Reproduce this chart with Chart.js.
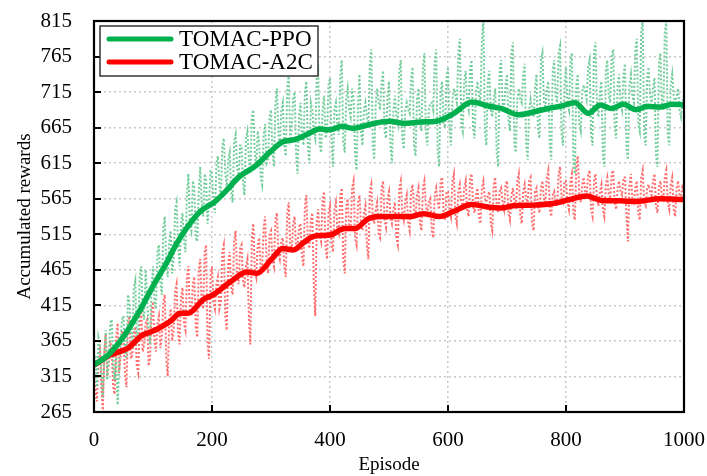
<!DOCTYPE html>
<html>
<head>
<meta charset="utf-8">
<script src="https://cdn.jsdelivr.net/npm/chart.js@4.4.1/dist/chart.umd.min.js"></script>
<style>
  html, body { margin: 0; padding: 0; background: #ffffff; }
  #wrap { width: 707px; height: 476px; position: relative; }
</style>
</head>
<body>
<div id="wrap"><canvas id="c" width="707" height="476"></canvas></div>
<script>
// ---------------- data ----------------
const seriesNames = ["TOMAC-PPO", "TOMAC-A2C"];
const xTicks = [0, 200, 400, 600, 800, 1000];
const yTicks = [265, 315, 365, 415, 465, 515, 565, 615, 665, 715, 765, 815];

// raw (noisy) rewards, sampled every 2.5 episodes (0..1000), one row = 50 episodes
const rawStep = 2.5;
const ppoRaw = [
  330,345,300,370,360,320,285,350,380,310,340,390,395,330,310,345,275,320,370,395,
  400,350,340,430,420,375,365,440,450,360,380,455,470,410,395,465,430,380,360,440,
  470,420,410,490,500,445,430,525,540,470,455,505,520,460,480,550,560,500,470,530,
  545,505,490,570,600,530,520,590,580,510,505,575,610,560,540,600,590,530,560,605,
  600,560,545,615,625,585,570,640,650,600,580,620,630,575,560,645,655,610,595,640,
  640,590,570,650,660,620,600,680,690,630,610,660,645,595,585,655,670,615,620,680,
  690,630,610,700,720,655,640,690,700,640,625,720,740,650,660,705,715,630,600,680,
  700,655,640,715,730,640,615,700,690,660,650,735,745,640,630,690,710,650,660,725,
  735,650,610,690,700,670,655,740,760,645,630,705,720,690,680,720,705,630,605,700,
  740,660,640,690,700,680,665,750,775,640,620,700,720,700,690,730,745,660,650,710,
  730,640,615,690,710,680,670,745,760,650,635,690,700,690,685,735,750,640,625,705,
  720,675,660,750,770,655,640,690,700,700,690,760,775,630,610,715,730,670,665,735,
  750,665,640,705,720,710,700,770,790,670,660,730,745,700,690,750,760,665,650,715,
  730,710,700,790,815,660,640,730,745,690,680,705,720,630,610,745,760,700,690,725,
  740,675,660,770,785,640,630,705,720,705,700,740,755,640,620,690,705,690,680,720,
  740,665,650,760,770,700,695,720,730,640,620,745,760,710,700,770,780,655,640,725,
  750,700,690,760,770,615,600,725,740,670,660,715,725,715,705,750,760,655,640,770,
  785,695,680,715,730,625,610,745,760,710,700,765,775,665,650,725,740,700,690,740,
  755,635,620,725,740,710,700,775,790,670,660,800,815,655,640,735,750,710,700,720,
  735,625,610,755,770,700,690,800,815,655,640,725,740,710,700,710,720,690,680,700,
  710
];
const a2cRaw = [
  320,295,280,340,360,300,265,350,375,315,330,365,350,300,290,370,390,320,340,380,
  370,320,300,385,400,340,345,375,385,330,320,395,410,350,360,390,395,330,340,405,
  420,365,350,390,400,355,370,420,430,340,315,395,410,365,380,435,445,375,360,425,
  440,390,380,455,470,405,400,445,455,385,370,465,480,420,410,490,500,360,340,455,
  470,420,410,445,455,410,420,490,500,400,380,475,490,440,430,505,520,460,445,495,
  500,450,440,470,480,400,360,510,530,465,455,500,510,465,470,525,540,475,460,515,
  520,480,470,535,545,490,480,505,510,470,455,545,560,500,490,530,540,495,500,525,
  530,485,470,555,570,505,495,535,545,450,400,530,550,515,505,565,575,495,480,545,
  555,500,490,550,560,520,515,570,580,480,460,555,565,525,520,580,590,510,500,560,
  570,530,520,545,555,500,480,575,585,540,530,550,560,515,510,580,590,535,525,565,
  575,540,530,550,560,510,500,580,590,545,535,560,570,530,520,575,585,550,540,570,
  580,530,520,580,590,555,545,560,565,520,510,570,580,560,550,590,595,545,535,575,
  575,550,540,590,600,540,530,575,585,560,555,580,590,550,540,595,600,555,545,570,
  580,540,530,580,590,565,560,570,575,530,520,585,595,555,545,575,580,560,550,585,
  590,545,535,570,580,560,555,590,600,540,530,575,585,565,560,590,595,530,520,575,
  580,555,545,580,590,565,560,595,605,550,540,570,575,560,555,600,610,565,560,590,
  590,560,550,590,600,545,535,610,625,570,560,585,595,575,570,600,605,550,540,590,
  600,565,555,575,585,550,540,585,595,570,565,600,605,560,550,580,590,575,570,595,
  595,540,505,585,600,565,560,580,590,545,535,595,605,560,555,580,585,575,570,590,
  600,555,545,580,590,570,565,595,605,560,550,585,595,550,540,580,590,570,565,585,
  575
];

// smoothed curves
const ppoSmoothEp = [0, 25, 50, 75, 100, 125, 140, 160, 180, 205, 225, 245, 275, 300, 320, 340, 360, 383, 400, 420, 440, 470, 500, 525, 555, 580, 610, 640, 670, 690, 720, 745, 770, 790, 815, 838, 858, 877, 897, 919, 937, 960, 980, 1000];
const ppoSmooth   = [331, 346, 371, 404, 442, 478, 502, 527, 547, 561, 577, 595, 612, 632, 645, 648, 655, 663, 662, 667, 664, 670, 674, 671, 673, 674, 685, 701, 695, 692, 683, 687, 692, 695, 700, 685, 697, 692, 698, 690, 695, 694, 698, 697];
const a2cSmoothEp = [0, 27, 58, 80, 106, 130, 146, 160, 185, 202, 231, 259, 276, 300, 320, 338, 355, 372, 400, 425, 442, 465, 485, 536, 558, 586, 609, 640, 670, 690, 711, 745, 784, 807, 835, 858, 892, 919, 959, 1000];
const a2cSmooth   = [331, 345, 355, 372, 381, 393, 404, 404, 423, 430, 448, 462, 460, 479, 495, 493, 503, 512, 514, 523, 523, 537, 540, 540, 544, 540, 547, 557, 553, 552, 555, 556, 559, 564, 569, 563, 562, 561, 565, 564];

// ---------------- build ----------------
const toXY = (xs, ys) => ys.map((v, i) => ({ x: xs[i], y: v }));
const rawXY = arr => arr.map((v, i) => ({ x: i * rawStep, y: v }));

const FONT = "'Liberation Serif', 'Times New Roman', serif";
const GREEN = "#00b04f";
const RED = "#ff0000";

const framePlugin = {
  id: 'frame',
  afterDatasetsDraw(chart) {
    const { ctx, chartArea: a, scales } = chart;
    ctx.save();
    ctx.strokeStyle = '#000';
    ctx.lineWidth = 2;
    ctx.beginPath();
    yTicks.forEach(v => {
      const y = Math.round(scales.y.getPixelForValue(v));
      ctx.moveTo(a.left, y); ctx.lineTo(a.left + 7, y);
    });
    xTicks.forEach(v => {
      const x = Math.round(scales.x.getPixelForValue(v));
      ctx.moveTo(x, a.bottom); ctx.lineTo(x, a.bottom - 7);
    });
    ctx.stroke();
    ctx.lineWidth = 2.2;
    ctx.strokeRect(a.left, a.top, a.right - a.left, a.bottom - a.top);

    // legend box
    const lx = a.left + 6, ly = a.top + 5, lw = 218, lh = 50;
    ctx.fillStyle = '#fff';
    ctx.fillRect(lx, ly, lw, lh);
    ctx.strokeStyle = '#333';
    ctx.lineWidth = 1.5;
    ctx.strokeRect(lx, ly, lw, lh);
    const items = [chart.data.datasets[0], chart.data.datasets[1]];
    ctx.font = "23px " + FONT;
    ctx.textBaseline = 'middle';
    items.forEach((ds, i) => {
      const cy = ly + 13 + i * 23;
      ctx.strokeStyle = ds.borderColor;
      ctx.lineWidth = 5;
      ctx.lineCap = 'round';
      ctx.beginPath();
      ctx.moveTo(lx + 9, cy); ctx.lineTo(lx + 71, cy);
      ctx.stroke();
      ctx.fillStyle = '#000';
      ctx.fillText(ds.label, lx + 79, cy + 1);
    });
    ctx.restore();
  }
};

new Chart(document.getElementById('c'), {
  type: 'line',
  data: {
    datasets: [
      { label: seriesNames[0], data: toXY(ppoSmoothEp, ppoSmooth), borderColor: GREEN, borderWidth: 5.5, pointRadius: 0, tension: 0.4, cubicInterpolationMode: 'monotone' },
      { label: seriesNames[1], data: toXY(a2cSmoothEp, a2cSmooth), borderColor: RED, borderWidth: 5.5, pointRadius: 0, tension: 0.4, cubicInterpolationMode: 'monotone' },
      { label: seriesNames[0] + ' raw', data: rawXY(ppoRaw), borderColor: 'rgb(115,205,155)', borderWidth: 2, borderDash: [2, 2], pointRadius: 0, tension: 0 },
      { label: seriesNames[1] + ' raw', data: rawXY(a2cRaw), borderColor: 'rgb(255,110,110)', borderWidth: 2, borderDash: [2, 2], pointRadius: 0, tension: 0 }
    ]
  },
  options: {
    responsive: false,
    animation: false,
    layout: { padding: { top: 21, right: 23, left: 0, bottom: 0 } },
    plugins: { legend: { display: false }, tooltip: { enabled: false } },
    scales: {
      x: {
        type: 'linear', min: 0, max: 1000,
        afterBuildTicks: s => { s.ticks = xTicks.map(v => ({ value: v })); },
        afterFit: s => { s.height = 64; s.paddingLeft = 0; s.paddingRight = 0; },
        ticks: { color: '#000', font: { family: FONT, size: 21 }, padding: 16, maxRotation: 0, callback: v => String(v) },
        grid: { color: '#c8c8c8', lineWidth: 1.5, drawTicks: false },
        border: { display: false, dash: [2, 3] },
        title: { display: true, text: 'Episode', color: '#000', font: { family: FONT, size: 19 }, padding: { top: 2, bottom: 0 } }
      },
      y: {
        type: 'linear', min: 265, max: 815,
        afterBuildTicks: s => { s.ticks = yTicks.map(v => ({ value: v })); },
        afterFit: s => { s.width = 94; s.paddingTop = 0; s.paddingBottom = 0; },
        ticks: { color: '#000', font: { family: FONT, size: 21 }, padding: 22, callback: v => String(v) },
        grid: { color: '#c8c8c8', lineWidth: 1.5, drawTicks: false },
        border: { display: false, dash: [2, 3] },
        title: { display: true, text: 'Accumulated rewards', color: '#000', font: { family: FONT, size: 19 }, padding: { top: 14, bottom: 0 } }
      }
    }
  },
  plugins: [framePlugin]
});
</script>
</body>
</html>
